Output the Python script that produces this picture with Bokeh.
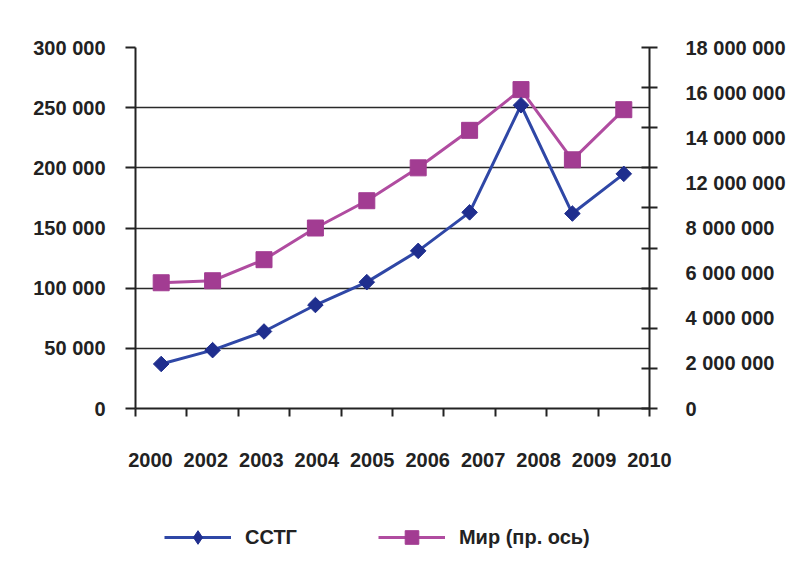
import numpy as np
from bokeh.plotting import figure
from bokeh.layouts import column
from bokeh.models import (Range1d, LinearAxis, FixedTicker, CustomJSTickFormatter,
                          Legend, LegendItem, ColumnDataSource)
from bokeh.embed import file_html
from bokeh.resources import INLINE

# ---- data ----
years = ["2000", "2002", "2003", "2004", "2005", "2006", "2007", "2008", "2009", "2010"]
sstg = [37000, 48500, 64000, 86000, 105000, 131000, 163000, 252000, 162000, 195000]
world = [6270000, 6370000, 7420000, 9000000, 10360000, 12000000, 13870000,
         15900000, 12400000, 14900000]
left_ticks = [0, 50000, 100000, 150000, 200000, 250000, 300000]
left_labels = ["0", "50 000", "100 000", "150 000", "200 000", "250 000", "300 000"]
right_ticks = [0, 2000000, 4000000, 6000000, 8000000, 10000000, 12000000,
               14000000, 16000000, 18000000]
right_labels = ["0", "2 000 000", "4 000 000", "6 000 000", "8 000 000",
                "12 000 000", "14 000 000", "16 000 000", "18 000 000"]
series_names = ["ССТГ", "Мир (пр. ось)"]

FONT = "Liberation Sans"
TXT = "#222222"
AX = "#222222"
BLUE_L, BLUE_M = "#2F47A6", "#1F2E8E"
PURP_L, PURP_M = "#B04CA0", "#A23C92"
W = 788

n = len(years)
x = [i + 0.5 for i in range(n)]
src = ColumnDataSource(dict(x=x, sstg=sstg, world=world))

p = figure(width=W, height=500, x_range=Range1d(0, n), y_range=Range1d(0, 300000),
           output_backend="svg", toolbar_location=None,
           min_border_left=135, min_border_right=134, min_border_top=47,
           min_border_bottom=92)
p.outline_line_color = None
p.background_fill_color = "white"
p.border_fill_color = "white"
p.extra_y_ranges = {"right": Range1d(0, right_ticks[-1])}

line_kw_w = dict(line_color=PURP_L, line_width=3)
mark_kw_w = dict(marker="square", size=16, fill_color=PURP_M, line_color=PURP_M)
line_kw_s = dict(line_color=BLUE_L, line_width=3)
mark_kw_s = dict(marker="square", angle=np.pi / 4, size=11, fill_color=BLUE_M, line_color=BLUE_M)

# world (right axis) first, then SSTG over it
p.line("x", "world", source=src, y_range_name="right", **line_kw_w)
p.scatter("x", "world", source=src, y_range_name="right", **mark_kw_w)
p.line("x", "sstg", source=src, **line_kw_s)
p.scatter("x", "sstg", source=src, **mark_kw_s)

def style_axis(a):
    a.axis_line_color = AX
    a.axis_line_width = 2
    a.major_tick_line_color = AX
    a.major_tick_line_width = 2
    a.minor_tick_line_color = AX
    a.minor_tick_line_width = 2
    a.major_label_text_font = FONT
    a.major_label_text_font_style = "bold"
    a.major_label_text_font_size = "20px"
    a.major_label_text_color = TXT

# x axis: labels + boundary ticks
xa = p.xaxis[0]
style_axis(xa)
xa.ticker = FixedTicker(ticks=list(np.linspace(0.29, n, n)), minor_ticks=list(range(n + 1)))
xa.formatter = CustomJSTickFormatter(args=dict(labels=years), code="return labels[index];")
xa.major_tick_in = 0
xa.major_tick_out = 0
xa.minor_tick_in = 0
xa.minor_tick_out = 8
xa.major_label_standoff = 36

# left axis
ya = p.yaxis[0]
style_axis(ya)
ya.ticker = FixedTicker(ticks=left_ticks, minor_ticks=[])
ya.formatter = CustomJSTickFormatter(args=dict(labels=left_labels), code="return labels[index];")
ya.major_tick_in = 0
ya.major_tick_out = 10
ya.major_label_standoff = 20

# right axis
m = len(right_labels) - 1
ra = LinearAxis(y_range_name="right",
                ticker=FixedTicker(ticks=[right_ticks[-1] * k / m for k in range(m + 1)],
                                   minor_ticks=right_ticks),
                formatter=CustomJSTickFormatter(args=dict(labels=right_labels),
                                                code="return labels[index];"))
style_axis(ra)
ra.major_tick_in = 0
ra.major_tick_out = 0
ra.minor_tick_in = 8
ra.minor_tick_out = 8
ra.major_label_standoff = 28
p.add_layout(ra, "right")

p.xgrid.visible = False
p.ygrid.grid_line_color = "#2a2a2a"
p.ygrid.grid_line_width = 1.5

# ---- legend strip below the chart (frame aligned with the chart's frame) ----
lg = figure(width=W, height=54, output_backend="svg", toolbar_location=None,
            min_border=0, x_axis_type=None, y_axis_type=None,
            x_range=Range1d(0, 1), y_range=Range1d(0, 1))
lg.outline_line_color = None
lg.grid.visible = False
empty = ColumnDataSource(dict(x=[np.nan], y=[np.nan]))
ll1 = lg.line("x", "y", source=empty, **line_kw_s)
ls1 = lg.scatter("x", "y", source=empty, marker="diamond", fill_color=BLUE_M, line_color=BLUE_M)
ll2 = lg.line("x", "y", source=empty, **line_kw_w)
ls2 = lg.scatter("x", "y", source=empty, **mark_kw_w)

legend = Legend(items=[LegendItem(label=series_names[0], renderers=[ll1, ls1]),
                       LegendItem(label=series_names[1], renderers=[ll2, ls2])],
                location=(29, 0), orientation="horizontal",
                glyph_width=67, glyph_height=34, label_standoff=14, spacing=81,
                padding=0, border_line_color=None, background_fill_alpha=0,
                label_text_font=FONT, label_text_font_style="bold",
                label_text_font_size="20px", label_text_color=TXT)
lg.add_layout(legend, "center")

open("out.html", "w").write(file_html(column(p, lg, spacing=0), INLINE))
